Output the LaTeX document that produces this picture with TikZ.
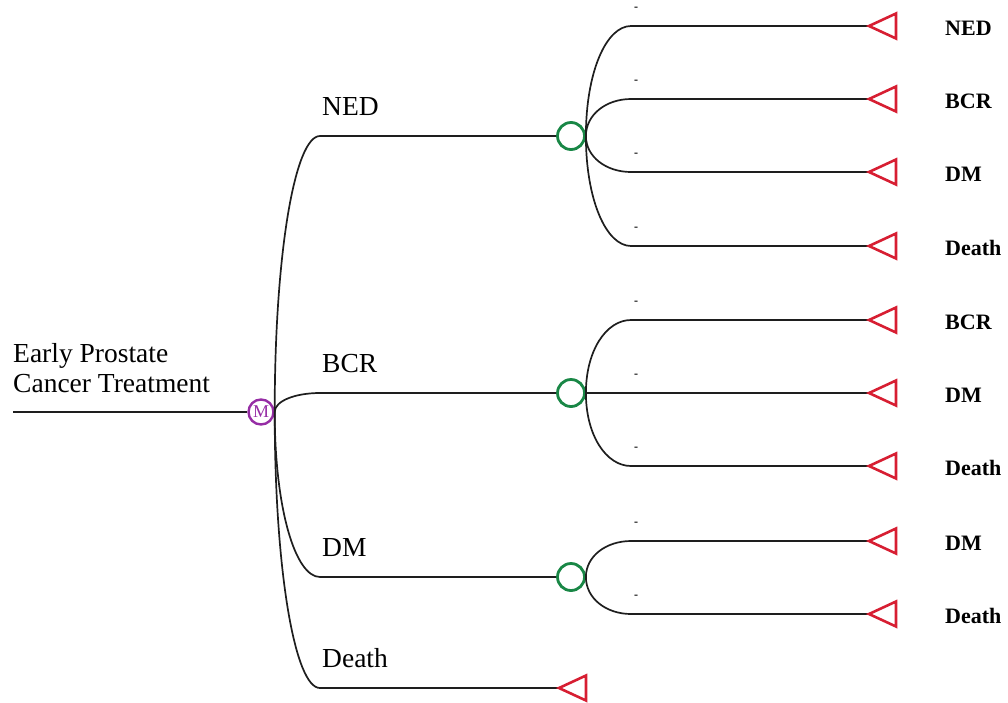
\documentclass[tikz,border=0pt]{standalone}
\usepackage{fontspec}
\setmainfont{Liberation Serif}
\usetikzlibrary{calc}
\definecolor{mpurple}{RGB}{150,45,165}
\definecolor{cgreen}{RGB}{25,135,70}
\definecolor{tred}{RGB}{215,30,50}
\definecolor{linegray}{RGB}{30,30,30}
\tikzset{
  conn/.style={draw=linegray, line width=1.7pt},
  branch/.style={to path={.. controls ($(\tikztostart)!0.58!(\tikztostart |- \tikztotarget)$)
      and ($(\tikztotarget)!0.55!(\tikztostart |- \tikztotarget)$) .. (\tikztotarget) \tikztonodes}},
  mnode/.style={circle, draw=mpurple, line width=2.4pt, minimum size=25pt, inner sep=0pt,
      text=mpurple, font=\fontsize{18}{18}\selectfont},
  chance/.style={circle, draw=cgreen, line width=2.8pt, minimum size=27pt, inner sep=0pt},
  term/.style={draw=tred, line width=2.6pt, line join=miter},
  blabel/.style={anchor=base west, inner sep=0pt, font=\fontsize{27.5}{30}\selectfont},
  tlabel/.style={anchor=base west, inner sep=0pt, font=\fontsize{22}{24}\selectfont\bfseries},
  prob/.style={anchor=base, inner sep=0pt, font=\fontsize{12}{12}\selectfont\bfseries},
}
\newcommand{\termtri}[1]{\draw[term] (#1) -- ++(27,-12.5) -- ++(0,25) -- cycle;}
\begin{document}
\begin{tikzpicture}[x=1pt, y=-1pt]
\useasboundingbox (0,0) rectangle (1008,702);

% root
\coordinate (r0) at (13,412);
\node[mnode] (M) at (261,412) {M};
\draw[conn] (r0) -- (M.west);
\node[blabel] (root1) at (13,362) {Early Prostate};
\node[blabel] (root2) at (13,392) {Cancer Treatment};

% chance nodes
\node[chance] (c1) at (571,136) {};
\node[chance] (c2) at (571,393) {};
\node[chance] (c3) at (571,577) {};

% branch corners after the Markov node
\coordinate (m1) at (320,136);
\coordinate (m2) at (320,393);
\coordinate (m3) at (320,577);
\coordinate (m4) at (320,688);
\coordinate (tD) at (559,688);

\draw[conn] (M.east) to[branch] (m1) -- (c1.west);
\draw[conn] (M.east) to[branch] (m2) -- (c2.west);
\draw[conn] (M.east) to[branch] (m3) -- (c3.west);
\draw[conn] (M.east) to[branch] (m4) -- (tD);
\termtri{tD}

\node[blabel] (lNED) at (322,115) {NED};
\node[blabel] (lBCR) at (322,372) {BCR};
\node[blabel] (lDM) at (322,556) {DM};
\node[blabel] (lDeath) at (322,667) {Death};

% chance branches and terminal nodes
\foreach \i/\yy/\src/\txt in {1/26/c1/NED, 2/99/c1/BCR, 3/172/c1/DM, 4/246/c1/Death,
    5/320/c2/BCR, 6/393/c2/DM, 7/466/c2/Death, 8/541/c3/DM, 9/614/c3/Death}{
  \coordinate (e\i) at (631,\yy);
  \coordinate (t\i) at (869,\yy);
  \draw[conn] (\src.east) to[branch] (e\i) -- (t\i);
  \termtri{t\i}
  \node[tlabel] (n\i) at (945,\yy+9) {\txt};
  \node[prob] (p\i) at (636,\yy-16) {-};
}
\end{tikzpicture}
\end{document}
